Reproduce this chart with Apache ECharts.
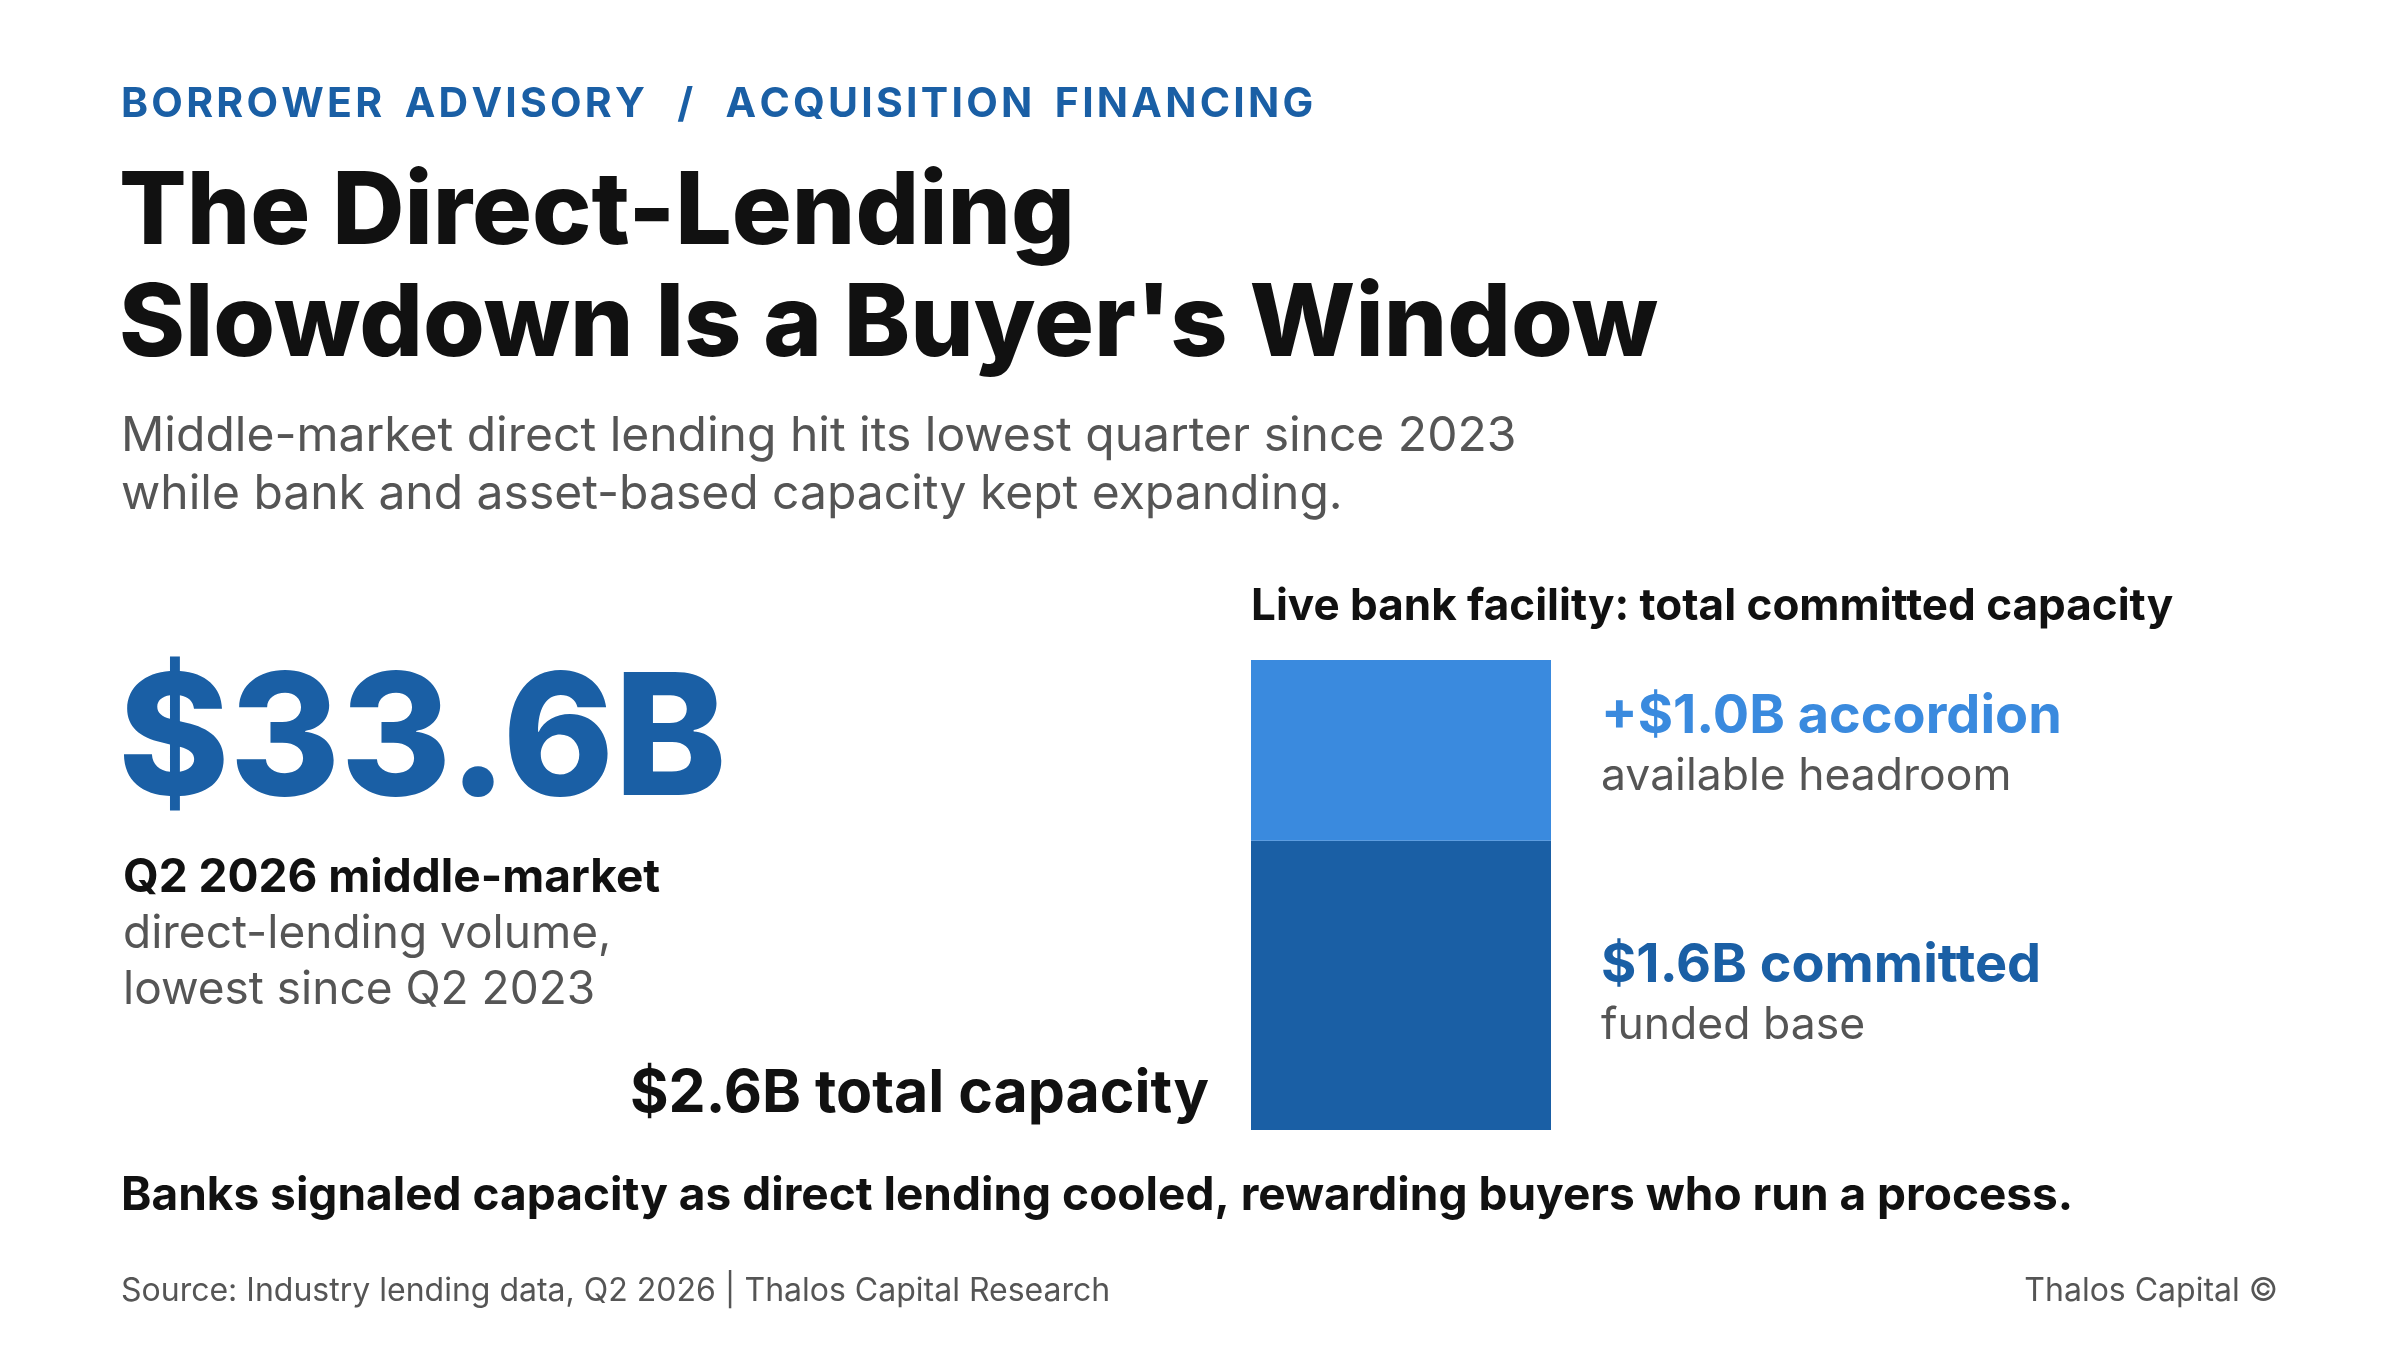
<!DOCTYPE html>
<html>
<head>
<meta charset="utf-8">
<script src="https://cdn.jsdelivr.net/npm/echarts@6/dist/echarts.min.js"></script>
<style>
  html, body { margin: 0; padding: 0; background: #fff; }
  #chart { width: 2400px; height: 1350px; }
</style>
</head>
<body>
<div id="chart"></div>
<script>
// facility data ($B)
const categories = ['Facility'];
const committedValues = [1.6];
const accordionValues = [1.0];
const totalCapacity = 2.6;

const FONT = 'Inter, "Noto Sans", sans-serif';
const DARK_BLUE = '#1a5fa5';
const LIGHT_BLUE = '#3a8ade';

const chart = echarts.init(document.getElementById('chart'));

function txt(x, y, text, size, weight, color, align) {
  return {
    type: 'text', x: x, y: y,
    style: {
      text: text, fontSize: size, fontWeight: weight, fill: color,
      fontFamily: FONT, align: align || 'left', verticalAlign: 'middle'
    }
  };
}

// kicker with hair spaces between letters to mimic letter-spacing
const kicker = 'B O R R O W E R   A D V I S O R Y    /    A C Q U I S I T I O N   F I N A N C I N G'.replace(/ (?! )/g, '\u200A');

chart.setOption({
  backgroundColor: '#fff',
  animation: false,
  grid: { left: 1251, top: 660, width: 300, height: 470 },
  xAxis: { type: 'category', data: categories, show: false },
  yAxis: { type: 'value', min: 0, max: totalCapacity, show: false },
  series: [
    {
      name: 'Committed', type: 'bar', stack: 'cap', barWidth: '100%',
      data: committedValues, itemStyle: { color: DARK_BLUE }
    },
    {
      name: 'Accordion', type: 'bar', stack: 'cap', barWidth: '100%',
      data: accordionValues, itemStyle: { color: LIGHT_BLUE }
    }
  ],
  graphic: [
    txt(121, 105, kicker, 41, 700, DARK_BLUE),
    txt(119, 214, 'The Direct-Lending', 100, 800, '#111'),
    txt(119, 326, "Slowdown Is a Buyer's Window", 100, 800, '#111'),
    txt(121, 437, 'Middle-market direct lending hit its lowest quarter since 2023', 48, 400, '#555'),
    txt(121, 495, 'while bank and asset-based capacity kept expanding.', 48, 400, '#555'),
    txt(118, 744, '$33.6B', 169, 800, DARK_BLUE),
    txt(123, 878, 'Q2 2026 middle-market', 46, 700, '#111'),
    txt(123, 934, 'direct-lending volume,', 46, 400, '#555'),
    txt(123, 990, 'lowest since Q2 2023', 46, 400, '#555'),
    txt(1209, 1094, '$2.6B total capacity', 59, 700, '#111', 'right'),
    txt(1251, 607, 'Live bank facility: total committed capacity', 44, 700, '#111'),
    txt(1601, 717, '+$' + accordionValues[0].toFixed(1) + 'B accordion', 54, 700, LIGHT_BLUE),
    txt(1601, 777, 'available headroom', 44.5, 400, '#555'),
    txt(1601, 966, '$' + committedValues[0].toFixed(1) + 'B committed', 54, 700, DARK_BLUE),
    txt(1601, 1026, 'funded base', 44.5, 400, '#555'),
    txt(121, 1196, 'Banks signaled capacity as direct lending cooled, rewarding buyers who run a process.', 46, 700, '#111'),
    txt(121, 1291, 'Source: Industry lending data, Q2 2026 | Thalos Capital Research', 32, 400, '#555'),
    txt(2278, 1291, 'Thalos Capital ©', 32, 400, '#555', 'right')
  ]
});
</script>
</body>
</html>
